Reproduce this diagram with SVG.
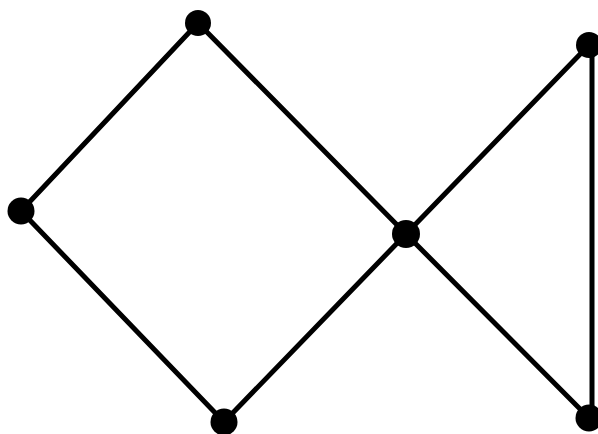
<svg xmlns="http://www.w3.org/2000/svg" width="598" height="434" viewBox="0 0 598 434">
<style>
.e{stroke:#000;stroke-width:5;stroke-linecap:round;fill:none}
.n{fill:#000}
</style>
<rect width="598" height="434" fill="#fff"/>
<g id="edges">
<line class="e" x1="198" y1="23" x2="21" y2="211"/>
<line class="e" x1="198" y1="23" x2="406" y2="234"/>
<line class="e" x1="21" y1="211" x2="224" y2="422"/>
<line class="e" x1="224" y1="422" x2="406" y2="234"/>
<line class="e" x1="406" y1="234" x2="589" y2="45"/>
<line class="e" x1="406" y1="234" x2="589" y2="418"/>
<line class="e" x1="592" y1="45" x2="592" y2="418"/>
</g>
<g id="n1"><circle class="n" cx="198" cy="23" r="13"/></g>
<g id="n2"><circle class="n" cx="21" cy="211" r="13.5"/></g>
<g id="n3"><circle class="n" cx="224" cy="422" r="13.5"/></g>
<g id="n4"><circle class="n" cx="406" cy="234" r="14"/></g>
<g id="n5"><circle class="n" cx="589" cy="45" r="13"/></g>
<g id="n6"><circle class="n" cx="589" cy="418" r="13.5"/></g>
</svg>
